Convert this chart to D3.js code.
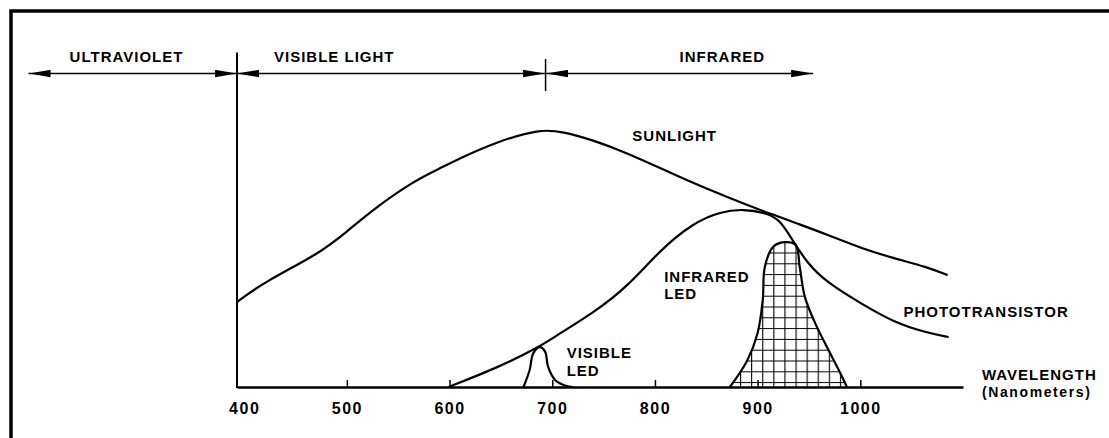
<!DOCTYPE html>
<html>
<head>
<meta charset="utf-8">
<script src="https://cdn.jsdelivr.net/npm/d3@7"></script>
<style>
  html, body { margin: 0; padding: 0; background: #fff; }
  svg { display: block; }
  text { font-family: "Liberation Sans", Arial, sans-serif; font-weight: bold; fill: #000; }
</style>
</head>
<body>
<div class="chart"></div>
<script>
const width = 1109;
const height = 438;

// relative response curves, wavelength (nm) vs intensity (0-100)
const sunNm  = [393, 418, 474, 500, 525, 564, 591, 613, 646, 688, 710, 740, 773, 805, 837, 870, 902, 919, 934, 968, 1000, 1032, 1065, 1085];
const sunVal = [25, 30.6, 39.4, 45.7, 52.1, 60.4, 64.4, 67.7, 72.1, 75.9, 75.1, 72.6, 68.8, 64.4, 60, 55.9, 52.1, 50.3, 48.6, 44.8, 40.9, 37.9, 35.3, 32.9];

const photoNm  = [599, 646, 688, 708, 740, 773, 805, 837, 863, 886, 909, 922, 934, 948, 968, 1000, 1032, 1065, 1086];
const photoVal = [0, 5.6, 11.8, 15.9, 21.8, 29.4, 40.3, 48.2, 51.5, 52.4, 51.2, 49.1, 43.2, 36.5, 30.6, 24.7, 19.1, 15.9, 14.7];

const irLedNm  = [873, 890, 900, 905, 907, 915, 926, 937, 941, 946, 956, 969, 979, 987];
const irLedVal = [0, 7.9, 15.9, 25.6, 35.3, 41.2, 42.6, 41.8, 35.3, 26.5, 18.8, 10.9, 5.0, 0];

const visLedNm  = [672, 678, 681.5, 688, 693, 696, 703, 714, 720];
const visLedVal = [0, 5, 9.9, 11.7, 10.4, 5.9, 2.0, 0.3, 0];

const tickValues = [400, 500, 600, 700, 800, 900, 1000];

// spectrum bands across the top
const bandNames = ["ULTRAVIOLET", "VISIBLE LIGHT", "INFRARED"];
const bandFrom  = [190, 393, 694];
const bandTo    = [393, 693, 954];
const bandLabelNm = [230, 429, 824];

// curve labels: text lines, anchor wavelength, anchor intensity
const curveLabels = [
  { lines: ["SUNLIGHT"], nm: 778, v: 72.4 },
  { lines: ["INFRARED", "LED"], nm: 809, v: 30.9 },
  { lines: ["VISIBLE", "LED"], nm: 714, v: 8.5 },
  { lines: ["PHOTOTRANSISTOR"], nm: 1042, v: 20.6 }
];

const x = d3.scaleLinear().domain([393, 1100]).range([237, 963]);
const y = d3.scaleLinear().domain([0, 100]).range([387, 47]);
const bandY = 73.5;

const svg = d3.select("div.chart")
  .append("svg")
  .attr("width", width)
  .attr("height", height)
  .attr("viewBox", [0, 0, width, height]);

const defs = svg.append("defs");

defs.append("marker")
  .attr("id", "head")
  .attr("markerUnits", "userSpaceOnUse")
  .attr("viewBox", "0 0 22 8")
  .attr("markerWidth", 22)
  .attr("markerHeight", 8)
  .attr("refX", 22)
  .attr("refY", 4)
  .attr("orient", "auto-start-reverse")
  .append("path")
  .attr("d", "M0,0.3 L22,4 L0,7.7 Z")
  .attr("fill", "#000");

// cross hatch for the infrared LED
const grid = defs.append("pattern")
  .attr("id", "grid")
  .attr("patternUnits", "userSpaceOnUse")
  .attr("x", 740)
  .attr("y", 252.5)
  .attr("width", 11.1)
  .attr("height", 10.8);
grid.append("path")
  .attr("d", "M0.5,0 V10.8 M0,0.5 H11.1")
  .attr("stroke", "#000")
  .attr("stroke-width", 1.2);

// frame (only top and left edges are inside the picture)
svg.append("rect")
  .attr("x", 11).attr("y", 11)
  .attr("width", 1120).attr("height", 460)
  .attr("fill", "none")
  .attr("stroke", "#000")
  .attr("stroke-width", 3.5);

// x axis
const xAxis = svg.append("g")
  .attr("class", "xAxis")
  .attr("transform", `translate(0,${y(0)})`)
  .call(d3.axisBottom(x).tickValues(tickValues).tickSizeInner(-7).tickSizeOuter(0).tickFormat(d3.format("d")));

xAxis.select(".domain").attr("stroke-width", 2.4);
xAxis.selectAll(".tick line").attr("stroke-width", 1.5);
xAxis.selectAll(".tick").filter(d => d === 400).select("line").remove();
xAxis.selectAll(".tick text")
  .attr("y", 27)
  .attr("dy", null)
  .attr("font-size", 16)
  .attr("font-family", null)
  .attr("letter-spacing", 1.5);

// y axis line (also the UV / visible boundary)
svg.append("line")
  .attr("x1", x(393)).attr("x2", x(393))
  .attr("y1", 52.5).attr("y2", y(0) + 1)
  .attr("stroke", "#000")
  .attr("stroke-width", 2);

// visible / infrared boundary marker
svg.append("line")
  .attr("x1", x(693.5)).attr("x2", x(693.5))
  .attr("y1", 59).attr("y2", 91)
  .attr("stroke", "#000")
  .attr("stroke-width", 1.5);

// band arrows
bandNames.forEach((name, i) => {
  svg.append("line")
    .attr("x1", x(bandFrom[i])).attr("x2", x(bandTo[i]))
    .attr("y1", bandY).attr("y2", bandY)
    .attr("stroke", "#000")
    .attr("stroke-width", 1.5)
    .attr("marker-start", "url(#head)")
    .attr("marker-end", "url(#head)");
  svg.append("text")
    .attr("x", x(bandLabelNm[i]))
    .attr("y", 62)
    .attr("font-size", 15)
    .attr("letter-spacing", 1)
    .text(name);
});

const smooth = d3.line()
  .x(d => x(d[0]))
  .y(d => y(d[1]))
  .curve(d3.curveBasis);

const peak = d3.line()
  .x(d => x(d[0]))
  .y(d => y(d[1]))
  .curve(d3.curveCatmullRom.alpha(0.5));

const peakArea = d3.area()
  .x(d => x(d[0]))
  .y0(y(0))
  .y1(d => y(d[1]))
  .curve(d3.curveCatmullRom.alpha(0.5));

const irLed = d3.zip(irLedNm, irLedVal);
svg.append("path")
  .attr("d", peakArea(irLed))
  .attr("fill", "url(#grid)")
  .attr("stroke", "none");
svg.append("path")
  .attr("d", peak(irLed))
  .attr("fill", "none")
  .attr("stroke", "#000")
  .attr("stroke-width", 2.2);

svg.append("path")
  .attr("d", peak(d3.zip(visLedNm, visLedVal)))
  .attr("fill", "none")
  .attr("stroke", "#000")
  .attr("stroke-width", 2.2);

[[sunNm, sunVal], [photoNm, photoVal]].forEach(([nm, v]) => {
  svg.append("path")
    .attr("d", smooth(d3.zip(nm, v)))
    .attr("fill", "none")
    .attr("stroke", "#000")
    .attr("stroke-width", 2.2);
});

// curve labels
curveLabels.forEach(l => {
  const t = svg.append("text")
    .attr("x", x(l.nm))
    .attr("y", y(l.v))
    .attr("font-size", 15)
    .attr("letter-spacing", 1);
  l.lines.forEach((s, i) => {
    t.append("tspan")
      .attr("x", x(l.nm))
      .attr("dy", i === 0 ? 0 : 17.5)
      .text(s);
  });
});

// axis title
svg.append("text")
  .attr("x", 982).attr("y", 380)
  .attr("font-size", 15)
  .attr("letter-spacing", 1)
  .text("WAVELENGTH");
svg.append("text")
  .attr("x", 982).attr("y", 397)
  .attr("font-size", 14)
  .attr("font-weight", "normal")
  .attr("letter-spacing", 1.6)
  .text("(Nanometers)");
</script>
</body>
</html>
